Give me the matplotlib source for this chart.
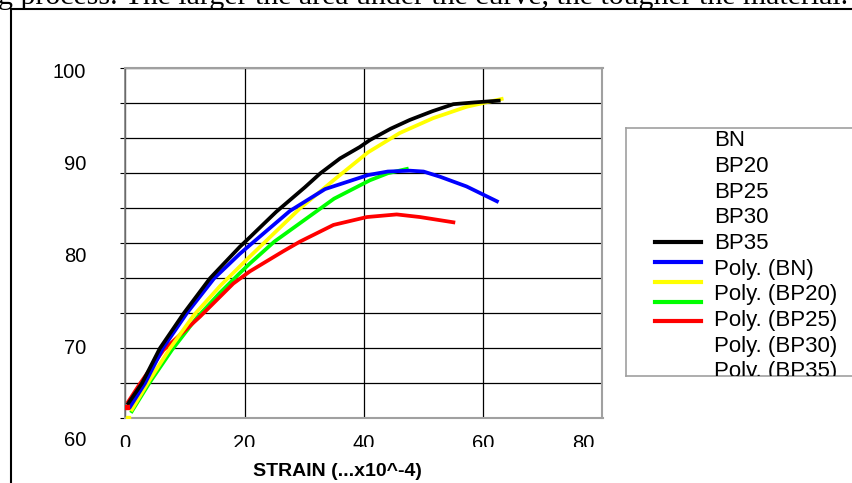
# Stress-strain curves with polynomial trend lines
import matplotlib
matplotlib.use('Agg')
import matplotlib.pyplot as plt
import matplotlib.transforms as mtransforms
from matplotlib.patches import Rectangle

plt.rcParams['font.family'] = ['Liberation Sans', 'DejaVu Sans']

# data (strain x10^-4, stress)
bp35_x = [0.5, 2.8, 5.8, 9.8, 14.2, 19.2, 20.9, 25.3, 30.1, 32.7, 36.0, 39.3, 41.0, 44.5, 47.7, 51.5, 55.0, 58.5, 62.6]
bp35_y = [61.7, 64.0, 68.0, 72.0, 76.0, 79.6, 80.7, 83.6, 86.4, 88.0, 89.7, 91.0, 91.8, 93.1, 94.1, 95.1, 95.9, 96.1, 96.3]

poly_bn_x = [0.8, 3.3, 6.3, 10.3, 14.9, 19.2, 20.9, 27.6, 33.5, 40.7, 44.0, 47.7, 50.0, 52.8, 57.2, 62.3]
poly_bn_y = [61.3, 64.0, 68.0, 72.0, 76.0, 78.8, 79.8, 83.7, 86.2, 87.8, 88.2, 88.3, 88.2, 87.6, 86.5, 84.8]

poly_bp20_x = [1.1, 4.0, 7.5, 11.5, 16.0, 20.9, 29.3, 34.9, 40.7, 46.0, 51.6, 57.2, 63.1]
poly_bp20_y = [61.0, 64.3, 68.0, 71.8, 75.2, 78.5, 84.0, 87.2, 90.4, 92.6, 94.3, 95.6, 96.5]

poly_bp25_x = [1.1, 4.0, 7.8, 12.0, 15.8, 19.2, 20.9, 25.0, 30.1, 35.0, 41.0, 44.0, 47.2]
poly_bp25_y = [60.8, 64.0, 67.8, 71.5, 74.3, 76.6, 77.7, 80.2, 82.7, 85.1, 87.2, 88.0, 88.5]

poly_bp30_x = [0.5, 2.5, 6.4, 12.5, 18.1, 20.9, 26.5, 29.3, 34.9, 40.5, 45.5, 49.4, 55.0]
poly_bp30_y = [61.9, 64.0, 67.8, 71.6, 75.4, 76.8, 79.1, 80.2, 82.1, 83.0, 83.3, 83.0, 82.4]

# first raw points visible at the origin
raw_red = (0.3, 61.3)
raw_yellow = (0.5, 60.0)

x_ticks = [0, 20, 40, 60, 80]
y_labels = [60, 70, 80, 90, 100]
y_grid = [60, 64, 68, 72, 76, 80, 84, 88, 92, 96, 100]

legend_labels = ['BN', 'BP20', 'BP25', 'BP30', 'BP35',
                 'Poly. (BN)', 'Poly. (BP20)', 'Poly. (BP25)', 'Poly. (BP30)', 'Poly. (BP35)']

W, H = 853, 483
fig = plt.figure(figsize=(W / 100, H / 100), dpi=100)

# text of the document above the chart (cut off)
fig.text(848 / W, 1 - 4.3 / H, 'g process. The larger the area under the curve, the tougher the material.',
         family='Liberation Serif', fontsize=21.5, ha='right', va='baseline', zorder=0.5)

# chart area frame
fig.patches.append(Rectangle((11 / W, -0.05), 1.2, (H - 9) / H + 0.05, transform=fig.transFigure,
                             facecolor='white', edgecolor='black', lw=1.5, zorder=1))

# plot area
L, R, T, B = 125.3, 602.5, 68.3, 418.3
ax = fig.add_axes([L / W, (H - B) / H, (R - L) / W, (B - T) / H])
ax.set_zorder(2)
ax.set_xlim(0, 80)
ax.set_ylim(60, 100)

ax.set_yticks(y_grid)
ax.set_xticks(x_ticks)
ax.set_xticklabels([str(v) for v in x_ticks], fontsize=14.5)
ax.grid(True, color='black', lw=0.9)
ax.set_axisbelow(True)
ax.tick_params(axis='y', length=3.6, width=0.8, color='black', labelleft=False)
ax.tick_params(axis='x', length=0, pad=11.5)
for side in ['top', 'right', 'bottom']:
    ax.spines[side].set_color('#a0a0a0')
    ax.spines[side].set_linewidth(1.5)
ax.spines['left'].set_color('#808080')
ax.spines['left'].set_linewidth(1.2)

ax.set_xlabel('STRAIN (...x10^-4)', fontsize=14, fontweight='bold')
ax.xaxis.set_label_coords((337 - L) / (R - L), -(471 - B) / (B - T))
ax.xaxis.label.set_va('center')

lw = 2.7
ax.plot(poly_bp25_x, poly_bp25_y, color='#00ff00', lw=lw, zorder=3)
ax.plot(poly_bp30_x, poly_bp30_y, color='#ff0000', lw=lw, zorder=3)
ax.plot(poly_bp20_x, poly_bp20_y, color='#ffff00', lw=lw, zorder=4)
ax.plot(poly_bn_x, poly_bn_y, color='#0000ff', lw=lw, zorder=4)
ax.plot(bp35_x, bp35_y, color='black', lw=lw, zorder=5)
ax.plot(*raw_red, marker='s', ms=3.5, color='#ff0000', zorder=6)
ax.plot(*raw_yellow, marker='s', ms=3.5, color='#ffff00', zorder=6)

# y tick labels (drawn on their own scale, as in the original)
lab = fig.add_axes([89 / W, (H - 438) / H, 0.001, (438 - 71) / H])
lab.set_zorder(2)
lab.set_ylim(60, 100)
lab.set_yticks(y_labels)
lab.set_yticklabels([str(v) for v in y_labels], fontsize=14.5)
lab.tick_params(axis='y', length=0, pad=2)
lab.set_xticks([])
for s in lab.spines.values():
    s.set_visible(False)
lab.patch.set_visible(False)

# legend box
LL, LT, LB = 626, 128, 376
leg = fig.add_axes([LL / W, (H - LB) / H, (880 - LL) / W, (LB - LT) / H])
leg.set_zorder(2)
leg.set_xlim(LL, 880)
leg.set_ylim(LB, LT)
leg.set_xticks([])
leg.set_yticks([])
for s in leg.spines.values():
    s.set_color('#a0a0a0')
    s.set_linewidth(1.2)

row_y = [140.7 + 25.7 * i for i in range(len(legend_labels))]
for name, yy in zip(legend_labels, row_y):
    leg.text(714, yy, name, fontsize=16, va='center', ha='left', clip_on=True)

handle_colors = ['black', '#0000ff', '#ffff00', '#00ff00', '#ff0000']
handle_y = [241.7, 261.7, 281.5, 302, 321]
for c, yy in zip(handle_colors, handle_y):
    leg.plot([655, 701], [yy, yy], color=c, lw=3)

# x tick labels are cut off below, and the last one is shifted
fig.canvas.draw()
clip = mtransforms.Bbox.from_extents(0, H - 447, W, H)
labels = ax.get_xticklabels()
for lbl in labels:
    lbl.set_clip_box(clip)
    lbl.set_clip_on(True)
labels[-1].set_transform(labels[-1].get_transform()
                         + mtransforms.ScaledTranslation(-19.5 / 100, 0, fig.dpi_scale_trans))

fig.savefig('out.png', dpi=100)
